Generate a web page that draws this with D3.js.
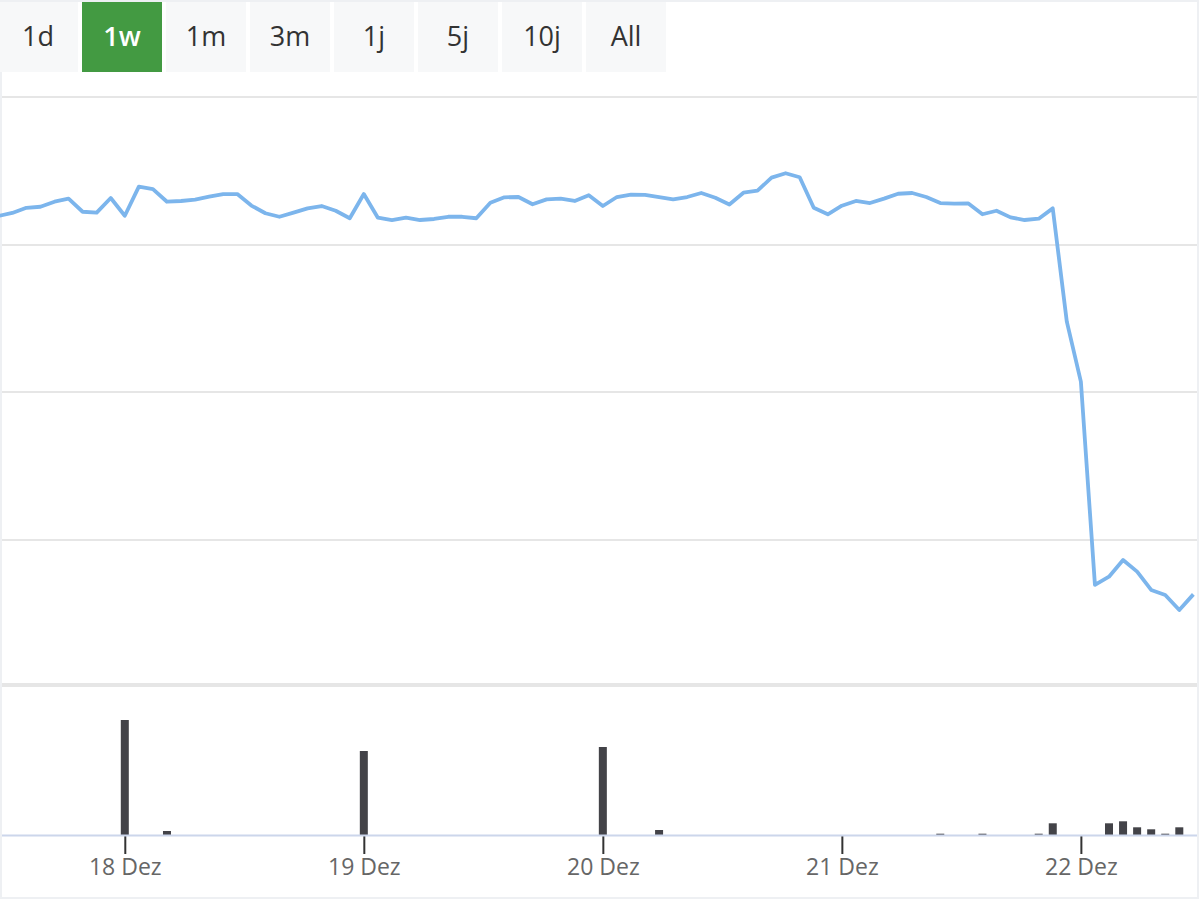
<!DOCTYPE html>
<html>
<head>
<meta charset="utf-8">
<script src="https://cdn.jsdelivr.net/npm/d3@7"></script>
<style>
  body { margin: 0; background: #fff; }
  svg { display: block; font-family: "Open Sans", "Noto Sans", sans-serif; }
</style>
</head>
<body>
<svg id="chart"></svg>
<script>
// range selector buttons
const rangeButtons = ["1d", "1w", "1m", "3m", "1j", "5j", "10j", "All"];
const selectedButton = "1w";

// price series, one value per period (index 9 = 18 Dez)
const prices = [
  31.93, 32.14, 32.49, 32.56, 32.90, 33.11, 32.22, 32.16, 33.15, 31.95,
  33.92, 33.76, 32.90, 32.95, 33.04, 33.24, 33.42, 33.42, 32.64, 32.12,
  31.88, 32.16, 32.45, 32.61, 32.29, 31.78, 33.42, 31.82, 31.66, 31.82,
  31.66, 31.73, 31.88, 31.88, 31.78, 32.83, 33.20, 33.22, 32.73, 33.06,
  33.11, 32.95, 33.34, 32.61, 33.22, 33.38, 33.36, 33.22, 33.06, 33.22,
  33.49, 33.17, 32.71, 33.51, 33.65, 34.53, 34.83, 34.56, 32.49, 32.05,
  32.63, 32.95, 32.81, 33.11, 33.44, 33.49, 33.22, 32.81, 32.77, 32.78,
  32.05, 32.29, 31.84, 31.66, 31.75, 32.45, 24.77, 20.70, 6.92, 7.48,
  8.61, 7.82, 6.58, 6.24, 5.22, 6.28
];

// volume bars: period index and volume
const volumeIndex = [9, 12, 26, 43, 47, 67, 70, 74, 75, 79, 80, 81, 82, 83, 84];
const volumeValues = [11500, 400, 8400, 8800, 500, 130, 130, 130, 1170, 1170, 1370, 770, 570, 130, 770];

// x axis labels
const tickIndex = [9, 26, 43, 60, 77];
const tickLabels = ["18 Dez", "19 Dez", "20 Dez", "21 Dez", "22 Dez"];

const priceTicks = [0, 10, 20, 30, 40];

const width = 1200, height = 900;

const svg = d3.select("#chart")
    .attr("width", width)
    .attr("height", height);

// outer frame
svg.append("rect")
    .attr("x", 1).attr("y", 1)
    .attr("width", width - 3).attr("height", height - 3)
    .attr("fill", "none")
    .attr("stroke", "#eef0f3")
    .attr("stroke-width", 2);

// buttons
const btn = svg.append("g").selectAll("g")
    .data(rangeButtons)
    .enter()
    .append("g")
    .attr("transform", (d, i) => `translate(${i * 84 - 2},2)`);

btn.append("rect")
    .attr("width", 80)
    .attr("height", 70)
    .attr("fill", d => d === selectedButton ? "#439a42" : "#f7f8f9");

btn.append("text")
    .attr("x", 40)
    .attr("y", 35)
    .attr("dy", "0.35em")
    .attr("text-anchor", "middle")
    .attr("font-size", "27px")
    .attr("font-weight", d => d === selectedButton ? "600" : "400")
    .attr("fill", d => d === selectedButton ? "#fff" : "#333")
    .text(d => d);

// scales
const step = 14.06;
const x = d3.scaleLinear()
    .domain([9, 77])
    .range([124.8, 124.8 + 68 * step]);

const y = d3.scaleLinear()
    .domain([0, 40])
    .range([687, 97]);

const yVol = d3.scaleLinear()
    .domain([0, 14800])
    .range([835, 687]);

// grid lines
svg.append("g").selectAll("line")
    .data(priceTicks.filter(d => d > 0))
    .enter()
    .append("line")
    .attr("x1", 2).attr("x2", width - 3)
    .attr("y1", d => Math.round(y(d))).attr("y2", d => Math.round(y(d)))
    .attr("stroke", "#e6e6e6")
    .attr("stroke-width", 2);

// separator between price and volume panels
svg.append("line")
    .attr("x1", 2).attr("x2", width - 3)
    .attr("y1", 685).attr("y2", 685)
    .attr("stroke", "#e6e6e6")
    .attr("stroke-width", 4);

// price line, clipped to plot
svg.append("clipPath").attr("id", "plotClip")
    .append("rect")
    .attr("x", 0).attr("y", 90)
    .attr("width", width - 3).attr("height", 595);

const line = d3.line()
    .x((d, i) => x(i))
    .y(d => y(d));

svg.append("path")
    .datum(prices)
    .attr("clip-path", "url(#plotClip)")
    .attr("d", line)
    .attr("fill", "none")
    .attr("stroke", "#7cb5ec")
    .attr("stroke-width", 3.8)
    .attr("stroke-linejoin", "round");

// volume bars
svg.append("g").selectAll("rect")
    .data(volumeValues)
    .enter()
    .append("rect")
    .attr("x", (d, i) => x(volumeIndex[i]) - 4)
    .attr("width", 8)
    .attr("y", d => yVol(d))
    .attr("height", d => 835 - yVol(d))
    .attr("fill", "#434348");

// x axis
const xAxis = d3.axisBottom(x)
    .tickValues(tickIndex)
    .tickFormat((d, i) => tickLabels[i])
    .tickSize(19)
    .tickPadding(5);

const axisG = svg.append("g")
    .attr("transform", "translate(0,835)")
    .call(xAxis);

axisG.select(".domain").remove();
axisG.selectAll(".tick line")
    .attr("stroke", "#333")
    .attr("stroke-width", 2);
axisG.selectAll(".tick text")
    .attr("fill", "#666")
    .attr("font-size", "23px")
    .attr("font-family", "'Open Sans', 'Noto Sans', sans-serif");

svg.append("line")
    .attr("x1", 2).attr("x2", width - 3)
    .attr("y1", 835.5).attr("y2", 835.5)
    .attr("stroke", "#ccd6eb")
    .attr("stroke-width", 2);
</script>
</body>
</html>
